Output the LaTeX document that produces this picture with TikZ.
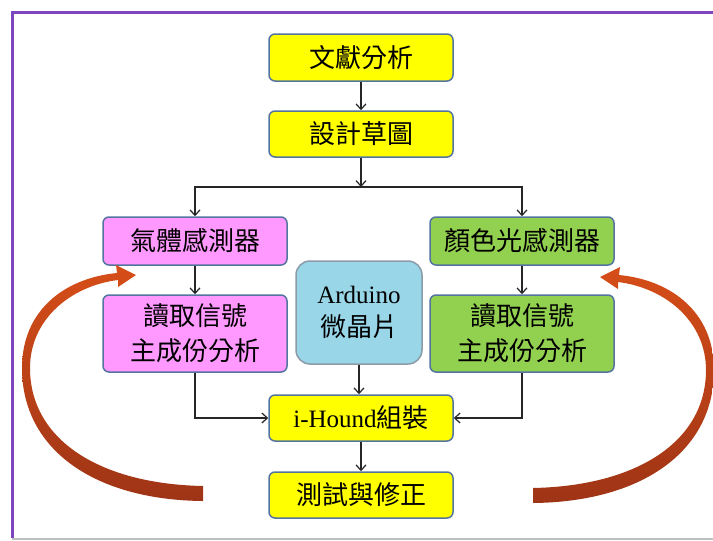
\documentclass[tikz,border=0pt]{standalone}
\usepackage{fontspec}
\setmainfont{Liberation Serif}
\newfontfamily\cjk{Noto Sans CJK TC}
\usetikzlibrary{arrows.meta}
\definecolor{boxline}{RGB}{84,116,160}
\definecolor{yel}{RGB}{255,255,0}
\definecolor{pnk}{RGB}{255,153,255}
\definecolor{grn}{RGB}{146,208,80}
\definecolor{ard}{RGB}{152,214,232}
\definecolor{ardline}{RGB}{140,155,168}
\definecolor{frame}{RGB}{126,70,190}
\definecolor{arrtop}{RGB}{214,78,24}
\definecolor{arrbot}{RGB}{158,52,22}
\begin{document}
\begin{tikzpicture}[x=1pt,y=-1pt,
  box/.style={draw=boxline, line width=1.5pt, rounded corners=6pt,
    minimum width=184pt, align=center, inner sep=0pt,
    font=\cjk\fontsize{26}{35}\selectfont},
  conn/.style={line width=1.2pt, draw=black!85,
    -{Straight Barb[length=5.5pt,width=10pt]}},
  bigarrow/.style={top color=arrtop, bottom color=arrbot, draw=none}
]
\useasboundingbox (0,0) rectangle (713,541);
% frame
\draw[frame, line width=3pt] (12,538) -- (12,12) -- (713,12);
\draw[black!25, line width=2pt] (12,539) -- (713,539);

% nodes
\node[box, fill=yel, minimum height=47pt] (s1) at (361,57.5) {文獻分析};
\node[box, fill=yel, minimum height=46pt] (s2) at (361,134) {設計草圖};
\node[box, fill=pnk, minimum height=48pt] (p1) at (195,241) {氣體感測器};
\node[box, fill=pnk, minimum height=77pt] (p2) at (195,333.5) {讀取信號\\主成份分析};
\node[box, fill=grn, minimum height=48pt] (g1) at (522,241) {顏色光感測器};
\node[box, fill=grn, minimum height=77pt] (g2) at (522,333.5) {讀取信號\\主成份分析};
\node[box, fill=ard, draw=ardline, rounded corners=14pt, minimum width=126pt,
  minimum height=103pt, font=\fontsize{25}{33}\selectfont] (ar) at (359,312.5)
  {Arduino\\{\cjk\fontsize{26}{33}\selectfont 微晶片}};
\node[box, fill=yel, minimum height=46pt, font=\fontsize{25}{35}\selectfont] (ih) at (361,418) {i-Hound{\cjk\fontsize{26}{35}\selectfont 組裝}};
\node[box, fill=yel, minimum height=46pt] (t) at (361,495) {測試與修正};

% connectors
\coordinate (j) at (361,187);
\draw[conn] (s1) -- (s2);
\draw[conn] (s2) -- (j);
\draw[conn] (j) -| (p1.north);
\draw[conn] (j) -| (g1.north);
\draw[conn] (p1) -- (p2);
\draw[conn] (g1) -- (g2);
\draw[conn] (p2.south) |- (ih.west);
\draw[conn] (g2.south) |- (ih.east);
\draw[conn] (ar.south) -- (ar.south |- ih.north);
\draw[conn] (ih) -- (t);

% curved arrows
\shade[bigarrow] (203,501) .. controls (95,500) and (22,450) .. (22,368)
  .. controls (22,310) and (65,278) .. (117,273)
  -- (116,265) -- (136,275) -- (118,287) -- (118,280)
  .. controls (70,286) and (30,320) .. (30,368)
  .. controls (30,440) and (100,484) .. (203,486) -- cycle;
\begin{scope}[xshift=736pt, xscale=-1, yshift=-2pt]
\shade[bigarrow] (203,501) .. controls (95,500) and (22,450) .. (22,368)
  .. controls (22,310) and (65,278) .. (117,273)
  -- (116,265) -- (136,275) -- (118,287) -- (118,280)
  .. controls (70,286) and (30,320) .. (30,368)
  .. controls (30,440) and (100,484) .. (203,486) -- cycle;
\end{scope}
\end{tikzpicture}
\end{document}
